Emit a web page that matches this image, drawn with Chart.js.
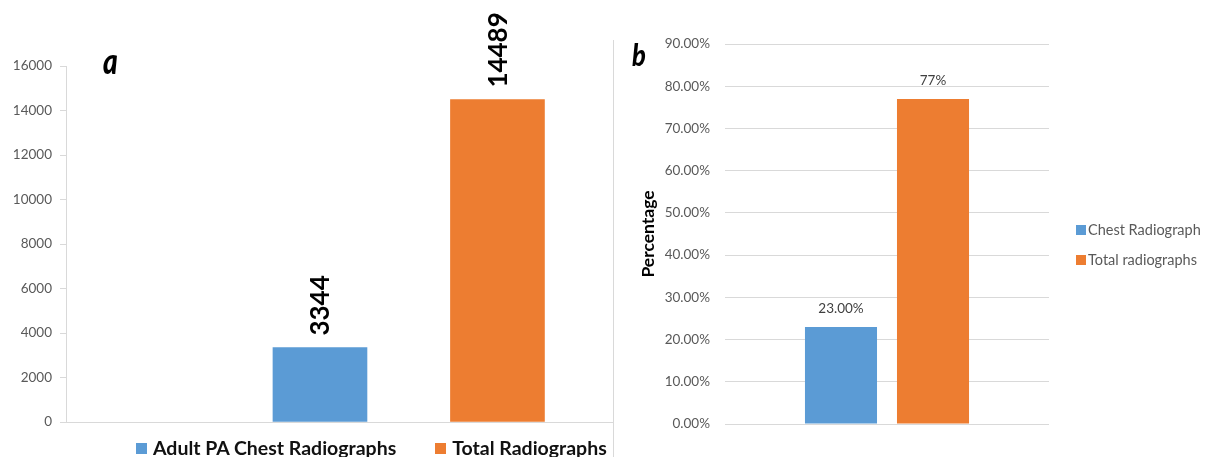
<!DOCTYPE html>
<html>
<head>
<meta charset="utf-8">
<title>Radiograph counts and share</title>
<script src="https://cdn.jsdelivr.net/npm/chart.js@4/dist/chart.umd.min.js"></script>
<style>
  html, body { margin: 0; padding: 0; background: #fff; width: 1205px; height: 457px; overflow: hidden; font-family: Lato, "Open Sans", sans-serif; }
  .panel { position: absolute; top: 0; height: 457px; }
  #panelA { left: 0; width: 613px; }
  #panelB { left: 613px; width: 592px; }
  .frame { position: absolute; left: 0; top: 40px; bottom: 0; width: 1px; background: #d9d9d9; }
  .tag { position: absolute; font-family: Lato, sans-serif; font-style: italic; font-weight: 900; color: #000; line-height: 1; transform-origin: left top; }
  #tagA { left: 103px; top: 42px; font-size: 36px; transform: scaleX(0.78); }
  #tagB { left: 632px; top: 39px; font-size: 30px; transform: scaleX(0.85); }
  .legend { position: absolute; display: flex; }
  .legend .item { display: flex; align-items: center; }
  .legend .swatch { display: inline-block; }
  #legendA { left: 136px; top: 438px; gap: 39px; font-weight: 700; font-size: 19.5px; color: #111; line-height: 20px; }
  #legendA .swatch { width: 11px; height: 11px; margin-right: 6px; }
  #legendB { left: 1076px; top: 220px; flex-direction: column; gap: 10px; font-size: 14.5px; color: #595959; line-height: 20px; }
  #legendB .swatch { width: 10px; height: 10px; margin-right: 2px; }
</style>
</head>
<body>
<div id="panelA" class="panel"><canvas id="chartA"></canvas></div>
<div id="panelB" class="panel"><div class="frame"></div><canvas id="chartB"></canvas></div>
<div id="tagA" class="tag">a</div>
<div id="tagB" class="tag">b</div>
<div id="legendA" class="legend"></div>
<div id="legendB" class="legend"></div>
<script>
// Panel a: number of radiographs
const seriesA = ['Adult PA Chest Radiographs', 'Total Radiographs'];
const countsA = [3344, 14489];
const slotsA = [1, 2];            // position of each bar along the x line
const yTicksA = { min: 0, max: 16000, step: 2000 };

// Panel b: share of radiographs (percent)
const seriesB = ['Chest Radiograph', 'Total radiographs'];
const percentB = [23, 77];
const percentDecimalsB = [2, 0];  // how each value label is printed
const yTicksB = { min: 0, max: 90, step: 10 };

const barColors = ['#5B9BD5', '#ED7D31'];

Chart.defaults.font.family = 'Lato, "Open Sans", sans-serif';
Chart.defaults.animation = false;

// Draws the value of every bar next to it.
function valueLabels({ format, color, font, offset, rotate }) {
  return {
    id: 'valueLabels',
    afterDatasetsDraw(chart) {
      const ctx = chart.ctx;
      chart.data.datasets.forEach((ds, di) => {
        const meta = chart.getDatasetMeta(di);
        meta.data.forEach((bar, i) => {
          const raw = ds.data[i];
          const v = typeof raw === 'object' ? raw.y : raw;
          const text = format(v, di);
          ctx.save();
          ctx.fillStyle = color;
          ctx.font = font;
          if (rotate) {
            ctx.translate(bar.x, bar.y - offset);
            ctx.rotate(-Math.PI / 2);
            ctx.textAlign = 'left';
            ctx.textBaseline = 'middle';
            ctx.fillText(text, 0, 1);
          } else {
            ctx.textAlign = 'center';
            ctx.textBaseline = 'middle';
            ctx.fillText(text, bar.x, bar.y - offset);
          }
          ctx.restore();
        });
      });
    }
  };
}

function buildLegend(chart, id) {
  const box = document.getElementById(id);
  chart.data.datasets.forEach(ds => {
    const item = document.createElement('div');
    item.className = 'item';
    const sw = document.createElement('span');
    sw.className = 'swatch';
    sw.style.background = ds.backgroundColor;
    const tx = document.createElement('span');
    tx.textContent = ds.label;
    item.appendChild(sw);
    item.appendChild(tx);
    box.appendChild(item);
  });
}

const chartA = new Chart(document.getElementById('chartA'), {
  type: 'bar',
  data: {
    datasets: seriesA.map((name, i) => ({
      label: name,
      data: [{ x: slotsA[i], y: countsA[i] }],
      backgroundColor: barColors[i],
      barThickness: 94,
      grouped: false
    }))
  },
  options: {
    responsive: true,
    maintainAspectRatio: false,
    layout: { padding: { left: 0, right: 0, top: 66, bottom: 35 } },
    plugins: { legend: { display: false }, tooltip: { enabled: false } },
    scales: {
      x: {
        type: 'linear',
        bounds: 'data',
        offset: false,
        min: -0.431,
        max: 2.651,
        ticks: { display: false },
        grid: { display: false, offset: false },
        border: { display: true, color: '#d9d9d9', width: 1 },
        afterFit(s) { s.height = 0; }
      },
      y: {
        min: yTicksA.min,
        max: yTicksA.max,
        ticks: {
          stepSize: yTicksA.step,
          color: '#595959',
          font: { size: 13.5 },
          padding: 8,
          callback: v => String(v)
        },
        grid: { drawOnChartArea: false, tickLength: 6, color: '#d9d9d9' },
        border: { display: true, color: '#d9d9d9' },
        afterFit(s) { s.width = 66; }
      }
    }
  },
  plugins: [valueLabels({
    format: v => String(v),
    color: '#000',
    font: 'bold 26px Lato, sans-serif',
    offset: 12,
    rotate: true
  })]
});
buildLegend(chartA, 'legendA');

const chartB = new Chart(document.getElementById('chartB'), {
  type: 'bar',
  data: {
    labels: [''],
    datasets: seriesB.map((name, i) => ({
      label: name,
      data: [percentB[i]],
      backgroundColor: barColors[i],
      categoryPercentage: 0.568,
      barPercentage: 0.783
    }))
  },
  options: {
    responsive: true,
    maintainAspectRatio: false,
    layout: { padding: { left: 0, right: 156, top: 44, bottom: 33 } },
    plugins: { legend: { display: false }, tooltip: { enabled: false } },
    scales: {
      x: { display: false },
      y: {
        min: yTicksB.min,
        max: yTicksB.max,
        ticks: {
          stepSize: yTicksB.step,
          color: '#595959',
          font: { size: 13.5 },
          padding: 15,
          callback: v => v.toFixed(2) + '%'
        },
        grid: { color: '#d9d9d9', drawTicks: false },
        border: { display: false },
        title: {
          display: true,
          text: 'Percentage',
          color: '#000',
          font: { size: 17.5, weight: 'bold' },
          padding: { top: 25, bottom: 0 }
        },
        afterFit(s) { s.width = 112; }
      }
    }
  },
  plugins: [valueLabels({
    format: (v, di) => v.toFixed(percentDecimalsB[di]) + '%',
    color: '#404040',
    font: '13.5px Lato, sans-serif',
    offset: 18,
    rotate: false
  })]
});
buildLegend(chartB, 'legendB');
</script>
</body>
</html>
